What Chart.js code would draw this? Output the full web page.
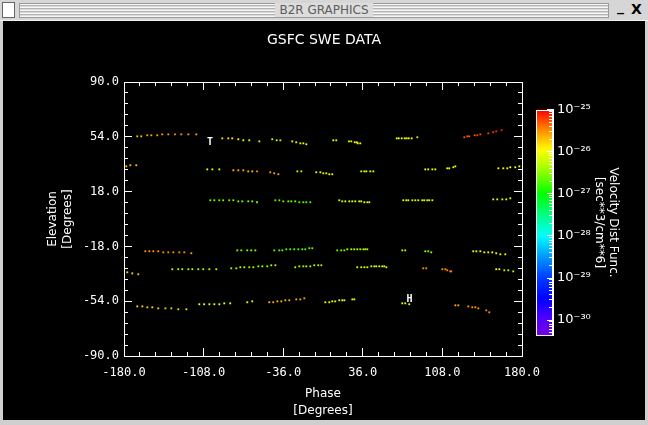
<!DOCTYPE html>
<html>
<head>
<meta charset="utf-8">
<title>B2R GRAPHICS</title>
<script src="https://cdn.jsdelivr.net/npm/chart.js@4.4.0/dist/chart.umd.min.js"></script>
<style>
  body { margin: 0; width: 648px; height: 425px; overflow: hidden; position: relative; background: #cfcfcf; font-family: "DejaVu Sans", sans-serif; }
  #bar { position: absolute; left: 0; top: 0; width: 648px; height: 20px; background: #d6d6d6; border-bottom: 1px solid #f2f2f2; }
  #icon { position: absolute; left: 2px; top: 2px; width: 11px; height: 14px; background: #fff; border: 1px solid #666; }
  #stripes { position: absolute; left: 19px; top: 3px; width: 588px; height: 13px; border: 1px solid #9a9a9a;
             background: repeating-linear-gradient(#f6f6f6 0 1px, #b4b4b4 1px 2px, #dadada 2px 3px); }
  #wtitle { position: absolute; left: 0; top: 3px; width: 648px; text-align: center; font-size: 12px; line-height: 14px; color: #5c5c5c; }
  #wtitle span { background: #dcdcdc; padding: 0 4px; }
  #btnMin { position: absolute; left: 617px; top: -2px; font: bold 14px "DejaVu Sans"; color: #000; }
  #btnX { position: absolute; left: 631px; top: 1px; font: bold 14px "DejaVu Sans"; color: #000; }
  #main { position: absolute; left: 3px; top: 21px; background: #000; }
  #cbar { position: absolute; left: 530px; top: 92px; }
</style>
</head>
<body>
<div id="bar">
  <div id="icon"></div>
  <div id="stripes"></div>
  <div id="wtitle"><span>B2R GRAPHICS</span></div>
  <div id="btnMin">_</div>
  <div id="btnX">X</div>
</div>
<canvas id="main" width="642" height="399"></canvas>
<canvas id="cbar" width="115" height="261"></canvas>
<script>
// six look-direction bands: phase (deg), elevation (deg), log10 of the distribution function
const phase1 = [-168.0,-164.4,-158.9,-155.3,-149.9,-145.4,-139.9,-133.9,-128.2,-121.8,-114.6,
  -91.1,-85.7,-82.1,-76.6,-72.1,-66.7,-57.6,-45.9,-41.9,-38.6,-27.8,-24.2,-20.5,-17.8,-15.1,
  9.3,12.0,23.5,25.6,28.7,30.5,31.4,33.7,66.7,68.5,71.2,73.9,75.6,77.5,80.2,85.3,
  127.8,130.5,132.3,137.2,139.6,142.3,149.5,154.0,156.7,161.6];
const elev1 = [54.3,54.3,55.0,55.0,55.0,55.6,55.6,55.6,55.6,55.6,55.6,
  53.0,53.0,53.0,52.4,51.7,51.7,51.0,52.4,51.7,51.7,51.0,50.4,49.7,49.7,49.1,
  51.7,51.7,51.0,51.0,50.4,50.4,49.7,49.7,53.0,53.0,53.0,53.0,53.0,53.0,53.0,53.7,
  53.7,54.3,54.3,55.0,55.0,55.6,56.3,57.0,57.6,58.3];
const vdf1 = [-25.7,-25.7,-25.6,-25.6,-25.6,-25.55,-25.55,-25.5,-25.55,-25.55,-25.6,
  -25.85,-25.85,-25.85,-25.95,-26.0,-26.0,-26.05,-26.2,-26.2,-26.2,-26.05,-26.05,-26.05,-26.05,-26.05,
  -26.05,-26.05,-26.05,-26.05,-26.0,-26.0,-26.0,-26.0,-26.0,-26.0,-26.0,-26.0,-26.0,-26.0,-26.0,-26.3,
  -25.3,-25.3,-25.3,-25.3,-25.25,-25.25,-25.2,-25.2,-25.15,-25.1];

const phase2 = [-177.9,-174.3,-168.9,-104.7,-100.1,-93.8,-81.1,-76.6,-72.1,-67.6,-64.0,-59.7,
  -47.7,-44.1,-40.4,-23.2,-19.6,-6.1,-2.4,0.3,3.0,5.7,8.4,34.6,37.4,39.2,42.8,45.5,
  92.5,95.2,98.9,101.6,112.4,114.2,117.9,119.7,158.6,163.1,166.7,169.4,173.9,177.6];
const elev2 = [34.6,35.3,35.3,32.6,32.6,32.6,32.0,32.0,32.0,31.3,31.3,31.3,
  30.7,30.0,29.4,31.3,31.3,30.7,30.7,30.0,30.0,29.4,29.4,31.3,31.3,31.3,31.3,31.3,
  32.6,32.6,32.6,32.6,33.3,33.3,34.0,34.6,33.3,33.3,33.3,34.0,34.0,34.6];
const vdf2 = [-25.7,-25.7,-25.7,-26.0,-26.0,-26.0,-25.65,-25.65,-25.65,-25.65,-25.65,-25.5,
  -25.6,-25.6,-25.6,-26.3,-26.3,-26.05,-26.05,-26.05,-26.05,-26.05,-26.05,-26.1,-26.1,-26.1,-26.1,-26.1,
  -26.0,-26.0,-26.0,-26.0,-26.0,-26.0,-26.05,-26.05,-25.95,-25.95,-25.95,-25.95,-25.95,-25.95];

const phase3 = [-101.9,-98.3,-93.8,-90.3,-84.8,-81.1,-76.6,-73.0,-67.6,-64.0,-59.7,
  -43.1,-39.5,-35.9,-31.4,-28.7,-25.1,-21.4,-17.8,-15.1,-11.5,
  14.7,17.4,20.2,23.8,26.5,29.2,32.8,34.6,37.4,40.1,41.9,
  72.6,75.3,77.2,80.8,83.5,86.2,89.8,91.6,94.3,96.1,98.9,
  154.0,157.6,162.2,165.8,169.4];
const elev3 = [12.3,12.3,12.3,12.3,12.3,12.3,11.6,11.6,11.6,11.6,11.0,
  12.3,12.3,11.6,11.6,11.6,11.6,11.0,11.0,11.0,11.0,
  12.3,11.6,11.6,11.6,11.6,11.6,11.6,11.6,11.0,11.0,11.0,
  12.3,12.3,12.3,12.3,12.3,12.3,12.3,12.3,12.3,12.3,12.3,
  12.9,12.9,12.9,12.9,13.6];
const vdf3 = [-26.6,-26.6,-26.6,-26.6,-26.6,-26.6,-26.55,-26.55,-26.55,-26.55,-26.6,
  -26.7,-26.7,-26.6,-26.6,-26.6,-26.6,-26.7,-26.7,-26.7,-26.7,
  -26.15,-26.1,-26.1,-26.1,-26.1,-26.1,-26.1,-26.1,-26.1,-26.1,-26.1,
  -26.15,-26.15,-26.15,-26.15,-26.15,-26.15,-26.15,-26.15,-26.15,-26.15,-26.15,
  -26.1,-26.1,-26.1,-26.1,-26.1];

const phase4 = [-160.7,-157.1,-153.5,-149.0,-144.5,-139.9,-135.4,-130.0,-125.5,-119.1,
  -77.5,-73.9,-68.5,-64.9,-61.2,
  -44.1,-39.5,-36.8,-33.2,-29.6,-26.0,-22.3,-18.7,-16.0,-12.4,-9.7,
  12.9,16.5,19.3,22.0,25.6,28.3,31.0,33.7,36.5,38.3,40.1,
  71.7,74.4,92.5,95.2,97.9,
  135.9,138.7,142.3,145.9,149.5,153.1,156.7,160.4,164.9];
const elev4 = [-21.2,-21.2,-21.2,-21.2,-21.9,-21.9,-21.9,-21.9,-21.9,-22.5,
  -20.6,-20.6,-20.6,-20.6,-20.6,
  -20.6,-20.6,-20.6,-19.9,-19.9,-19.9,-19.9,-19.9,-19.9,-19.2,-19.2,
  -20.6,-20.6,-20.6,-19.9,-19.9,-19.9,-19.9,-19.9,-19.9,-19.9,-19.9,
  -20.6,-20.6,-21.2,-21.2,-21.9,
  -21.2,-21.2,-21.2,-21.9,-21.9,-21.9,-22.5,-23.2,-23.2];
const vdf4 = [-25.55,-25.55,-25.55,-25.55,-25.5,-25.5,-25.5,-25.5,-25.5,-25.6,
  -26.55,-26.55,-26.55,-26.55,-26.55,
  -26.7,-26.7,-26.7,-26.7,-26.7,-26.7,-26.7,-26.7,-26.7,-26.7,-26.7,
  -26.6,-26.6,-26.6,-26.35,-26.35,-26.35,-26.35,-26.35,-26.35,-26.35,-26.35,
  -26.3,-26.3,-26.5,-26.5,-26.5,
  -26.0,-26.0,-26.0,-26.0,-26.0,-26.0,-26.0,-26.0,-26.0];

const phase5 = [-177.0,-172.5,-167.1,
  -136.3,-130.9,-127.3,-121.8,-118.2,-112.8,-108.3,-102.8,-96.5,
  -83.0,-78.4,-74.8,-71.2,-66.7,-63.0,-58.5,-54.9,-50.4,-46.8,-43.1,
  -25.1,-21.4,-17.8,-15.1,-11.5,-7.9,-4.3,-1.5,
  31.0,34.6,37.4,40.1,43.7,46.4,48.2,50.9,53.6,55.4,57.3,
  90.7,93.4,107.9,110.6,112.4,115.1,116.0,
  156.7,159.5,164.0,167.6,172.1];
const elev5 = [-35.0,-35.7,-36.3,
  -33.0,-33.0,-33.0,-33.0,-33.0,-33.0,-33.0,-33.0,-33.0,
  -32.4,-32.4,-31.7,-31.7,-31.7,-31.7,-31.1,-31.1,-31.1,-30.4,-30.4,
  -31.7,-31.1,-31.1,-31.1,-31.1,-30.4,-30.4,-30.4,
  -31.7,-31.7,-31.7,-31.7,-31.1,-31.1,-31.1,-31.1,-31.1,-31.1,-31.7,
  -32.4,-32.4,-33.0,-33.0,-33.7,-34.4,-34.4,
  -33.0,-33.0,-33.7,-33.7,-34.4];
const vdf5 = [-25.8,-25.8,-25.7,
  -26.3,-26.3,-26.3,-26.3,-26.3,-26.3,-26.3,-26.3,-26.3,
  -26.4,-26.4,-26.4,-26.4,-26.4,-26.4,-26.4,-26.4,-26.4,-26.4,-26.4,
  -26.35,-26.35,-26.35,-26.35,-26.35,-26.35,-26.35,-26.4,
  -26.15,-26.15,-26.15,-26.15,-26.15,-26.15,-26.15,-26.15,-26.15,-26.15,-26.15,
  -25.5,-25.5,-25.5,-25.5,-25.5,-25.45,-25.45,
  -26.0,-26.0,-26.3,-26.3,-26.3];

const phase6 = [-168.0,-163.4,-158.9,-154.4,-149.0,-142.6,-137.2,-130.9,-123.6,
  -111.9,-107.5,-102.8,-98.3,-93.8,-89.3,-83.9,-68.5,-64.0,
  -48.6,-45.0,-41.3,-37.7,-34.1,-30.5,-24.2,-20.5,-16.9,
  2.1,5.7,8.4,11.1,14.7,17.4,19.3,26.5,28.3,
  71.7,74.4,78.0,
  119.7,122.4,131.4,135.0,137.8,140.5,147.7,150.4];
const elev6 = [-57.4,-57.4,-58.0,-58.0,-58.7,-58.7,-58.7,-59.3,-59.3,
  -56.0,-56.0,-56.0,-56.0,-56.0,-55.4,-55.4,-54.7,-54.1,
  -54.7,-54.7,-54.1,-54.1,-53.4,-53.4,-52.8,-52.8,-52.1,
  -54.7,-54.7,-54.1,-54.1,-53.4,-53.4,-53.4,-52.8,-52.8,
  -55.4,-55.4,-56.0,
  -56.7,-56.7,-57.4,-58.0,-58.0,-58.7,-60.0,-61.3];
const vdf6 = [-25.8,-25.8,-25.8,-25.8,-25.75,-25.75,-25.75,-25.8,-25.8,
  -26.0,-26.0,-26.0,-26.0,-26.0,-26.0,-26.0,-26.0,-26.0,
  -25.65,-25.65,-25.65,-25.65,-25.65,-25.65,-25.6,-25.6,-25.6,
  -26.05,-26.05,-26.05,-26.05,-26.05,-26.05,-26.05,-26.05,-26.05,
  -26.0,-26.0,-26.0,
  -25.6,-25.6,-25.55,-25.55,-25.55,-25.55,-25.5,-25.5];

// T / H markers
const markerLabels = ['T', 'H'];
const markerPhase = [-102.2, 78.2];
const markerElev = [50.3, -52.9];

// axis ticks
const phaseTicks = [-180, -108, -36, 36, 108, 180];
const elevTicks = [-90, -54, -18, 18, 54, 90];
const cbarExps = [-25, -26, -27, -28, -29, -30];
const cbarLabels = ['10⁻²⁵', '10⁻²⁶', '10⁻²⁷', '10⁻²⁸', '10⁻²⁹', '10⁻³⁰'];
const cbarMin = -30.36, cbarMax = -25;

const bands = [
  {phase: phase1, elev: elev1, vdf: vdf1},
  {phase: phase2, elev: elev2, vdf: vdf2},
  {phase: phase3, elev: elev3, vdf: vdf3},
  {phase: phase4, elev: elev4, vdf: vdf4},
  {phase: phase5, elev: elev5, vdf: vdf5},
  {phase: phase6, elev: elev6, vdf: vdf6}
];

// rainbow colour table, keyed on log10 value
const cmap = [
  [-30.36, 120, 0, 230], [-29.9, 70, 0, 255], [-29.5, 0, 0, 255], [-29.0, 0, 60, 255],
  [-28.5, 0, 150, 255], [-28.0, 0, 255, 255], [-27.5, 0, 255, 130], [-27.0, 0, 255, 0],
  [-26.45, 150, 255, 0], [-25.95, 255, 255, 0], [-25.45, 255, 130, 0], [-25.0, 255, 0, 0]
];
function colorFor(e) {
  if (e <= cmap[0][0]) return `rgb(${cmap[0][1]},${cmap[0][2]},${cmap[0][3]})`;
  for (let k = 1; k < cmap.length; k++) {
    if (e <= cmap[k][0]) {
      const a = cmap[k - 1], b = cmap[k];
      const t = (e - a[0]) / (b[0] - a[0]);
      const c = [1, 2, 3].map(j => Math.round(a[j] + (b[j] - a[j]) * t));
      return `rgb(${c[0]},${c[1]},${c[2]})`;
    }
  }
  const l = cmap[cmap.length - 1];
  return `rgb(${l[1]},${l[2]},${l[3]})`;
}

function stepList(lo, hi, step) {
  const out = [];
  for (let v = lo; v <= hi + 1e-9; v += step) out.push(Math.round(v * 1000) / 1000);
  return out;
}
const phaseMinor = stepList(-180, 180, 14.4);
const elevMinor = stepList(-90, 90, 7.2);

const white = '#ffffff';
const tickFont = {family: 'DejaVu Sans Mono', size: 12};

function sideAxis(axis, position, values, len, weight) {
  return {
    type: 'linear', axis: axis, position: position, weight: weight,
    min: axis === 'x' ? -180 : -90, max: axis === 'x' ? 180 : 90,
    afterBuildTicks: s => { s.ticks = values.map(v => ({value: v})); },
    ticks: {display: false, autoSkip: false},
    grid: {drawOnChartArea: false, tickLength: len, tickColor: white, tickWidth: 1},
    border: {color: white, width: 1},
    afterFit: s => { if (s.isHorizontal()) s.height = 0; else s.width = 0; }
  };
}

const markerText = {
  id: 'markerText',
  afterDatasetsDraw(chart) {
    const {ctx, scales: {x, y}} = chart;
    ctx.save();
    ctx.fillStyle = white;
    ctx.font = 'bold 10px "DejaVu Sans Mono"';
    ctx.textAlign = 'center';
    ctx.textBaseline = 'middle';
    markerLabels.forEach((t, i) => {
      ctx.fillText(t, x.getPixelForValue(markerPhase[i]), y.getPixelForValue(markerElev[i]));
    });
    ctx.restore();
  }
};

new Chart(document.getElementById('main'), {
  type: 'scatter',
  data: {
    datasets: bands.map((b, i) => ({
      label: 'band ' + (i + 1),
      data: b.phase.map((p, j) => ({x: p, y: b.elev[j]})),
      pointStyle: 'rect',
      pointRadius: 1.3,
      pointBorderWidth: 0,
      pointBackgroundColor: ctx => colorFor(b.vdf[ctx.dataIndex])
    }))
  },
  options: {
    responsive: false,
    devicePixelRatio: 1,
    animation: false,
    events: [],
    plugins: {
      legend: {display: false},
      tooltip: {enabled: false},
      title: {
        display: true, text: 'GSFC SWE DATA', color: white,
        font: {family: 'DejaVu Sans', size: 14, weight: 'normal', lineHeight: 1.2},
        padding: {top: 10.6, bottom: 33.6}
      }
    },
    scales: {
      x: {
        type: 'linear', position: 'bottom', min: -180, max: 180,
        afterBuildTicks: s => { s.ticks = phaseTicks.map(v => ({value: v})); },
        ticks: {color: white, font: tickFont, padding: 18, autoSkip: false, maxRotation: 0,
                callback: v => v.toFixed(1)},
        grid: {drawOnChartArea: false, tickLength: -8, tickColor: white},
        border: {color: white, width: 1},
        title: {display: true, text: ['Phase', '[Degrees]'], color: white,
                font: {family: 'DejaVu Sans', size: 12, lineHeight: 1.4}, padding: {top: 0, bottom: 1}},
        afterFit: s => { s.height = 64; }
      },
      xm: sideAxis('x', 'bottom', phaseMinor, -4, -1),
      xt: sideAxis('x', 'top', phaseTicks, -8, 0),
      xtm: sideAxis('x', 'top', phaseMinor, -4, -1),
      y: {
        type: 'linear', position: 'left', min: -90, max: 90,
        afterBuildTicks: s => { s.ticks = elevTicks.map(v => ({value: v})); },
        ticks: {color: white, font: tickFont, padding: 13, autoSkip: false,
                callback: v => v.toFixed(1)},
        grid: {drawOnChartArea: false, tickLength: -8, tickColor: white},
        border: {color: white, width: 1},
        title: {display: true, text: ['Elevation', '[Degrees]'], color: white,
                font: {family: 'DejaVu Sans', size: 12, lineHeight: 1.25}, padding: {top: 42, bottom: 0}},
        afterFit: s => { s.width = 121; }
      },
      ym: sideAxis('y', 'left', elevMinor, -4, -1),
      yr: Object.assign(sideAxis('y', 'right', elevTicks, -8, 0), {afterFit: s => { s.width = 123; }}),
      yrm: sideAxis('y', 'right', elevMinor, -4, -1)
    }
  },
  plugins: [markerText]
});

// colour bar
const cbarMinor = [];
for (let n = -31; n <= -26; n++) {
  for (let k = 2; k <= 9; k++) {
    const v = n + Math.log10(k);
    if (v > cbarMin && v < cbarMax) cbarMinor.push(v);
  }
}

const cbarFill = {
  id: 'cbarFill',
  beforeDraw(chart) {
    const {ctx, chartArea: a} = chart;
    const g = ctx.createLinearGradient(0, a.bottom, 0, a.top);
    for (let k = 0; k <= 60; k++) {
      g.addColorStop(k / 60, colorFor(cbarMin + (cbarMax - cbarMin) * k / 60));
    }
    ctx.save();
    ctx.fillStyle = g;
    ctx.fillRect(a.left, a.top, a.right - a.left, a.bottom - a.top);
    ctx.strokeStyle = white;
    ctx.lineWidth = 1;
    ctx.strokeRect(Math.round(a.left) + 0.5, Math.round(a.top) + 0.5,
                   Math.round(a.right - a.left) - 1, Math.round(a.bottom - a.top));
    ctx.restore();
  }
};

new Chart(document.getElementById('cbar'), {
  type: 'scatter',
  data: {datasets: []},
  options: {
    responsive: false,
    devicePixelRatio: 1,
    animation: false,
    events: [],
    layout: {padding: {left: 6, top: 0, bottom: 0, right: 0}},
    plugins: {legend: {display: false}, tooltip: {enabled: false}},
    scales: {
      x: {type: 'linear', display: false, min: 0, max: 1},
      y: {
        type: 'linear', position: 'right', min: cbarMin, max: cbarMax,
        afterBuildTicks: s => { s.ticks = cbarExps.map(v => ({value: v})); },
        ticks: {color: white, font: {family: 'DejaVu Sans', size: 13}, padding: 10, autoSkip: false,
                callback: v => cbarLabels[cbarExps.indexOf(v)]},
        grid: {drawOnChartArea: false, tickLength: -6, tickColor: white},
        border: {color: white, width: 1},
        title: {display: true, text: ['Velocity Dist Func.', '[sec**3/cm**6]'], color: white,
                font: {family: 'DejaVu Sans', size: 12, lineHeight: 1.17}, padding: {top: 25, bottom: 0}},
        afterFit: s => { s.width = 92; }
      },
      ym: {
        type: 'linear', axis: 'y', position: 'right', weight: -1, min: cbarMin, max: cbarMax,
        afterBuildTicks: s => { s.ticks = cbarMinor.map(v => ({value: v})); },
        ticks: {display: false, autoSkip: false},
        grid: {drawOnChartArea: false, tickLength: -4, tickColor: white},
        border: {color: white, width: 1},
        afterFit: s => { s.width = 0; }
      }
    }
  },
  plugins: [cbarFill]
});
</script>
</body>
</html>
